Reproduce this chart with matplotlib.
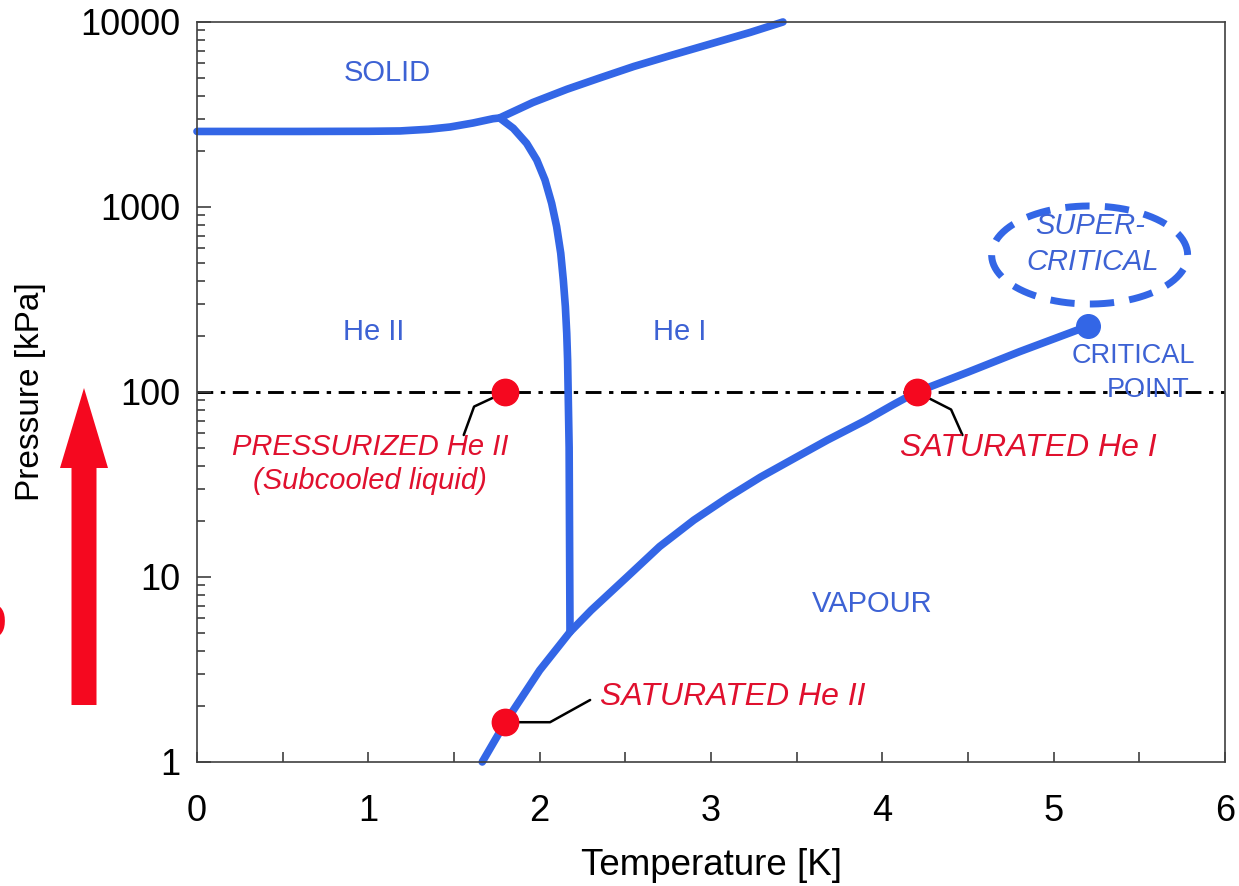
import numpy as np
import matplotlib
matplotlib.use('Agg')
import matplotlib.pyplot as plt
from matplotlib.ticker import MultipleLocator, LogLocator, NullFormatter, FuncFormatter
from matplotlib.patches import FancyArrow

plt.rcParams['font.family'] = ['Liberation Sans', 'DejaVu Sans']

# Helium phase diagram
melt_T = [0.0, 0.6, 1.0, 1.185, 1.35, 1.477, 1.611, 1.728, 1.77]
melt_P = [2560, 2560, 2565, 2576, 2630, 2706, 2844, 3000, 3030]

melt_hi_T = [1.77, 1.96, 2.16, 2.35, 2.55, 2.75, 2.94, 3.23, 3.42]
melt_hi_P = [3040, 3670, 4330, 4980, 5750, 6530, 7345, 8790, 10000]

lam_T = [1.769, 1.846, 1.924, 1.983, 2.031, 2.070, 2.099, 2.123, 2.138, 2.150,
         2.158, 2.163, 2.172, 2.177]
lam_P = [3015, 2663, 2208, 1795, 1400, 1047, 783, 562, 403, 289, 207, 149, 50, 5.04]

vap_T = [1.665, 1.8, 2.0, 2.177, 2.3, 2.51, 2.7, 2.9, 3.1, 3.29, 3.5, 3.68, 3.9, 4.06,
         4.2, 4.5, 4.8, 5.2]
vap_P = [1.0, 1.64, 3.13, 5.04, 6.6, 10, 14.6, 20.3, 27, 34.7, 44.5, 55, 70, 85,
         100, 128, 165, 227]

crit_T, crit_P = 5.2, 227
op_T = [1.8, 4.2, 1.8]
op_P = [100, 100, 1.64]
ref_P = 100

region_names = ['SOLID', 'He II', 'He I', 'VAPOUR', 'CRITICAL', 'POINT']
region_T = [1.11, 1.03, 2.82, 3.94, 5.463, 5.551]
region_P = [5300, 210, 210, 7.15, 156, 102]

super_names = ['SUPER-', 'CRITICAL']
super_T = [5.21, 5.23]
super_P = [789, 504]

red_names = ['PRESSURIZED He II\n(Subcooled liquid)', 'SATURATED He I', 'SATURATED He II']
red_T = [1.01, 4.85, 3.128]
red_P = [40.8, 49.8, 2.25]
red_size = [21, 23, 23]

blue = '#3366e6'
blue_txt = '#3d62d4'
red = '#f5081f'
red_txt = '#e0102e'

fig = plt.figure(figsize=(12.39, 8.86), dpi=100)
ax = fig.add_axes([0.159, 0.140, 0.8297, 0.8352])

ax.plot(melt_T, melt_P, color=blue, lw=5.5, solid_capstyle='round', clip_on=False)
ax.plot(melt_hi_T, melt_hi_P, color=blue, lw=5.5, solid_capstyle='round', clip_on=False)
ax.plot(lam_T, lam_P, color=blue, lw=5.5, solid_capstyle='round')
ax.plot(vap_T, vap_P, color=blue, lw=5.5, solid_capstyle='round', clip_on=False)
ax.plot(crit_T, crit_P, 'o', color=blue, ms=17, zorder=5)

ax.axhline(ref_P, color='black', lw=2.1, linestyle=(0, (5.4, 2.6, 1.5, 2.6)), zorder=1)

# dashed oval round the supercritical label
t = np.linspace(0, 2 * np.pi, 200)
ell_T, ell_P, ell_a, ell_b = 5.21, 550, 0.572, 0.265
ax.plot(ell_T + ell_a * np.cos(t), ell_P * 10 ** (ell_b * np.sin(t)),
        color=blue, lw=5, linestyle=(0, (3.5, 2.2)))

# leader lines from red points to their labels
leaders = [((-30, -31), 70, 25), ((33, -31), -66, -27), ((61, 16), 29, 0)]
for (T, P), (off, aA, aB) in zip(zip(op_T, op_P), leaders):
    ax.annotate('', xy=(T, P), xytext=off, textcoords='offset points',
                arrowprops=dict(arrowstyle='-', color='black', lw=1.8, shrinkA=0, shrinkB=0,
                                connectionstyle=f'angle,angleA={aA},angleB={aB},rad=0'))
ax.plot(op_T, op_P, 'o', color=red, ms=19, zorder=6)

for name, T, P in zip(region_names, region_T, region_P):
    fs = 19.5 if name in ('CRITICAL', 'POINT') else 21
    ax.text(T, P, name, color=blue_txt, fontsize=fs, ha='center', va='center')
for name, T, P in zip(super_names, super_T, super_P):
    ax.text(T, P, name, color=blue_txt, fontsize=21, ha='center', va='center', style='italic')
for name, T, P, fs in zip(red_names, red_T, red_P, red_size):
    ax.text(T, P, name, color=red_txt, fontsize=fs, ha='center', va='center',
            style='italic', linespacing=1.25)

ax.set_xlim(0, 6)
ax.set_ylim(1, 10000)
ax.set_yscale('log')
ax.xaxis.set_major_locator(MultipleLocator(1))
ax.xaxis.set_minor_locator(MultipleLocator(0.5))
ax.yaxis.set_major_locator(LogLocator(base=10))
ax.yaxis.set_minor_locator(LogLocator(base=10, subs=np.arange(2, 10)))
ax.yaxis.set_minor_formatter(NullFormatter())
ax.yaxis.set_major_formatter(FuncFormatter(lambda v, p: f'{v:g}'))
ax.tick_params(which='both', direction='in', width=1.2, color='#404040', labelsize=26)
ax.tick_params(axis='x', which='both', length=7, pad=23)
ax.tick_params(axis='y', which='major', length=10, pad=12)
ax.tick_params(axis='y', which='minor', length=6)
for s in ax.spines.values():
    s.set_color('#404040')
    s.set_linewidth(1.2)

ax.set_xlabel('Temperature [K]', fontsize=26.5, labelpad=14)
ax.set_ylabel('Pressure [kPa]', fontsize=24)
ax.yaxis.set_label_coords(-0.147, 0.5)

# big red arrow outside the axes
fig.add_artist(FancyArrow(0.84, 1.81, 0, 3.17, width=0.25, head_width=0.48, head_length=0.80,
                          length_includes_head=True, color=red, lw=0,
                          transform=fig.dpi_scale_trans))
fig.text(0.006, 0.281, 'p', color=red, fontsize=44, fontweight='bold', ha='right', va='baseline')

plt.savefig('out.png', dpi=100)
